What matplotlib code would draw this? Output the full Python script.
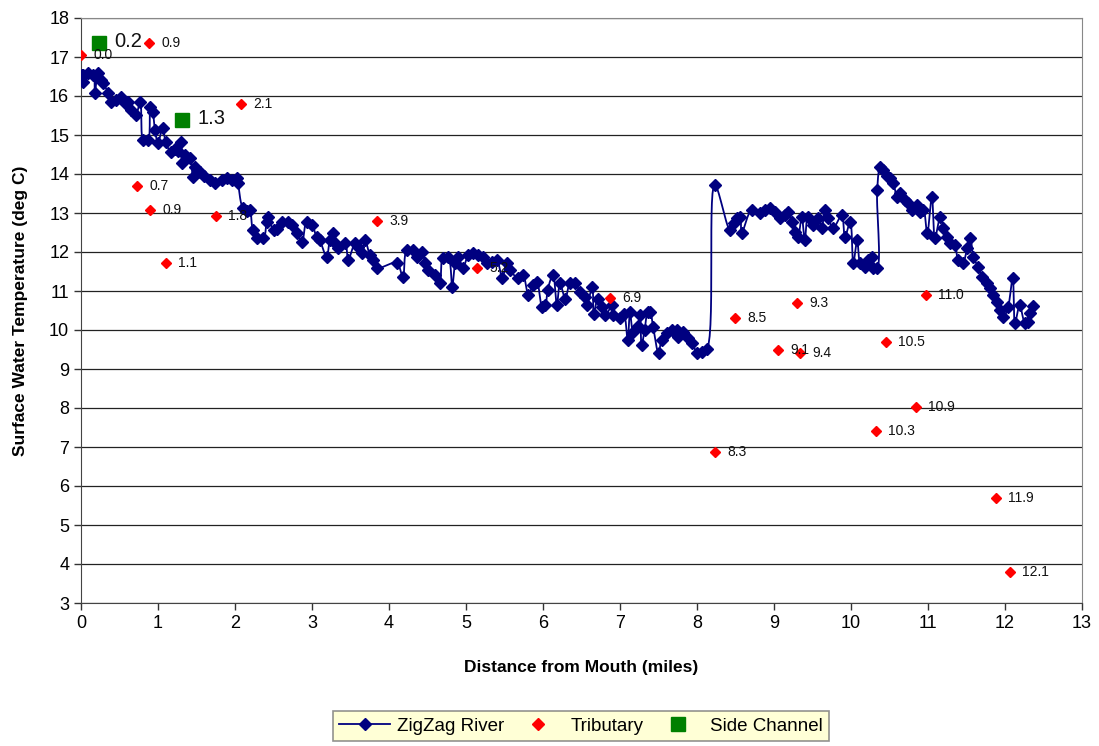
import numpy as np
import matplotlib
matplotlib.use("Agg")
import matplotlib.pyplot as plt
from matplotlib.lines import Line2D

plt.rcParams['font.family'] = ['Liberation Sans', 'DejaVu Sans']

# ---------------- data ----------------
river_x = [0.00, 0.01, 0.03, 0.03, 0.09, 0.16, 0.18, 0.22, 0.26, 0.29, 0.35, 0.39, 0.45, 0.52, 0.57,
           0.61, 0.65, 0.71, 0.77, 0.81, 0.87, 0.90, 0.93, 0.96, 1.00, 1.06, 1.10, 1.17, 1.22, 1.26,
           1.30, 1.31, 1.35, 1.42, 1.45, 1.48, 1.55, 1.60, 1.67, 1.74, 1.83, 1.90, 1.96, 2.03, 2.04,
           2.10, 2.15, 2.19, 2.23, 2.28, 2.37, 2.41, 2.43, 2.50, 2.54, 2.61, 2.69, 2.74, 2.80, 2.87,
           2.93, 3.00, 3.06, 3.10, 3.19, 3.23, 3.27, 3.30, 3.34, 3.43, 3.47, 3.56, 3.60, 3.65, 3.69,
           3.75, 3.79, 3.84, 4.10, 4.18, 4.23, 4.31, 4.36, 4.43, 4.47, 4.51, 4.60, 4.66, 4.70, 4.77,
           4.82, 4.86, 4.90, 4.96, 5.03, 5.09, 5.16, 5.22, 5.27, 5.34, 5.40, 5.47, 5.53, 5.57, 5.68,
           5.74, 5.81, 5.87, 5.92, 5.99, 6.03, 6.06, 6.13, 6.18, 6.22, 6.29, 6.35, 6.42, 6.48, 6.55,
           6.57, 6.64, 6.66, 6.71, 6.77, 6.81, 6.90, 6.91, 7.00, 7.05, 7.10, 7.13, 7.17, 7.23, 7.26,
           7.28, 7.32, 7.36, 7.39, 7.43, 7.50, 7.54, 7.61, 7.68, 7.74, 7.75, 7.82, 7.88, 7.94, 8.00,
           8.06, 8.13, 8.23, 8.43, 8.48, 8.52, 8.56, 8.58, 8.71, 8.82, 8.88, 8.95, 9.01, 9.08,
           9.14, 9.18, 9.23, 9.27, 9.31, 9.36, 9.40, 9.44, 9.51, 9.57, 9.62, 9.66, 9.70, 9.77, 9.88,
           9.92, 9.99, 10.03, 10.08, 10.12, 10.18, 10.22, 10.27, 10.29, 10.34, 10.34, 10.38, 10.42, 10.47, 10.51,
           10.55, 10.60, 10.64, 10.70, 10.74, 10.79, 10.86, 10.90, 10.94, 10.99, 11.05, 11.09, 11.16, 11.20, 11.25,
           11.29, 11.35, 11.39, 11.45, 11.51, 11.55, 11.59, 11.65, 11.70, 11.77, 11.81, 11.84, 11.90, 11.94, 11.98,
           12.04, 12.10, 12.13, 12.19, 12.26, 12.30, 12.33, 12.36]
river_y = [16.40, 16.55, 16.54, 16.36, 16.59, 16.54, 16.08, 16.59, 16.40, 16.33, 16.08, 15.85, 15.90, 15.97, 15.82,
           15.85, 15.64, 15.51, 15.85, 14.87, 14.87, 15.72, 15.60, 15.13, 14.80, 15.18, 14.82, 14.56, 14.65, 14.60,
           14.82, 14.28, 14.50, 14.40, 13.92, 14.18, 14.05, 13.95, 13.85, 13.77, 13.85, 13.90, 13.85, 13.90, 13.77,
           13.13, 13.05, 13.08, 12.56, 12.36, 12.36, 12.77, 12.90, 12.56, 12.60, 12.77, 12.77, 12.70, 12.50, 12.26,
           12.77, 12.70, 12.38, 12.30, 11.87, 12.30, 12.50, 12.23, 12.10, 12.23, 11.80, 12.23, 12.13, 11.97, 12.30,
           11.92, 11.80, 11.59, 11.72, 11.36, 12.05, 12.05, 11.87, 12.00, 11.72, 11.54, 11.41, 11.20, 11.85, 11.87,
           11.10, 11.72, 11.87, 11.59, 11.92, 11.97, 11.92, 11.87, 11.72, 11.74, 11.80, 11.33, 11.72, 11.54, 11.33,
           11.41, 10.90, 11.15, 11.23, 10.59, 10.64, 11.03, 11.41, 10.64, 11.20, 10.80, 11.20, 11.20, 10.97, 10.85,
           10.64, 11.10, 10.40, 10.80, 10.59, 10.38, 10.64, 10.38, 10.30, 10.40, 9.74, 10.46, 9.95, 10.10, 10.38,
           9.62, 10.00, 10.46, 10.46, 10.08, 9.41, 9.74, 9.92, 10.00, 10.00, 9.82, 9.95, 9.79, 9.67, 9.41,
           9.44, 9.51, 13.72, 12.56, 12.75, 12.87, 12.90, 12.49, 13.08, 13.00, 13.08, 13.13, 13.03, 12.87,
           12.95, 13.03, 12.77, 12.51, 12.38, 12.90, 12.31, 12.90, 12.69, 12.87, 12.62, 13.08, 12.87, 12.62, 12.95,
           12.38, 12.77, 11.72, 12.31, 11.72, 11.62, 11.80, 11.87, 11.59, 11.59, 13.59, 14.18, 14.10, 13.95, 13.90,
           13.77, 13.41, 13.51, 13.33, 13.26, 13.08, 13.21, 13.03, 13.08, 12.49, 13.41, 12.36, 12.90, 12.62, 12.38,
           12.23, 12.18, 11.80, 11.72, 12.10, 12.36, 11.87, 11.62, 11.36, 11.20, 11.08, 10.90, 10.72, 10.51, 10.33,
           10.59, 11.33, 10.18, 10.64, 10.18, 10.21, 10.44, 10.62]

trib_x = [0.00, 0.88, 2.08, 0.73, 0.90, 1.10, 1.75, 3.84, 5.14, 6.87, 8.23, 8.49, 9.05, 9.30, 9.34,
          10.32, 10.45, 10.84, 10.97, 11.88, 12.06]
trib_y = [17.05, 17.35, 15.80, 13.70, 13.08, 11.72, 12.92, 12.80, 11.60, 10.82, 6.88, 10.30, 9.49, 10.69, 9.41,
          7.40, 9.70, 8.02, 10.90, 5.70, 3.80]
trib_labels = ["0.0", "0.9", "2.1", "0.7", "0.9", "1.1", "1.8", "3.9", "5.2", "6.9", "8.3", "8.5", "9.1", "9.3", "9.4",
               "10.3", "10.5", "10.9", "11.0", "11.9", "12.1"]

side_x = [0.23, 1.31]
side_y = [17.35, 15.38]
side_labels = ["0.2", "1.3"]

x_ticks = list(range(0, 14))
y_ticks = list(range(3, 19))

# ---------------- figure ----------------
W, H = 1099, 746
fig = plt.figure(figsize=(W / 100, H / 100), dpi=100)
ax = fig.add_axes([81 / W, 1 - 603 / H, (1082 - 81) / W, (603 - 18) / H])
ax.set_xlim(0, 13)
ax.set_ylim(3, 18)


def centripetal_cr(xs, ys, sx, sy, n=14, alpha=0.5):
    P = np.column_stack([np.asarray(xs) * sx, np.asarray(ys) * sy])
    P = np.vstack([2 * P[0] - P[1], P, 2 * P[-1] - P[-2]])
    out = []
    for i in range(1, len(P) - 2):
        p0, p1, p2, p3 = P[i - 1], P[i], P[i + 1], P[i + 2]

        def tj(ti, a, b):
            d = np.hypot(*(b - a))
            return ti + max(d, 1e-6) ** alpha
        t0 = 0.0
        t1 = tj(t0, p0, p1)
        t2 = tj(t1, p1, p2)
        t3 = tj(t2, p2, p3)
        t = np.linspace(t1, t2, n, endpoint=False)[:, None]
        A1 = (t1 - t) / (t1 - t0) * p0 + (t - t0) / (t1 - t0) * p1
        A2 = (t2 - t) / (t2 - t1) * p1 + (t - t1) / (t2 - t1) * p2
        A3 = (t3 - t) / (t3 - t2) * p2 + (t - t2) / (t3 - t2) * p3
        B1 = (t2 - t) / (t2 - t0) * A1 + (t - t0) / (t2 - t0) * A2
        B2 = (t3 - t) / (t3 - t1) * A2 + (t - t1) / (t3 - t1) * A3
        C = (t2 - t) / (t2 - t1) * B1 + (t - t1) / (t2 - t1) * B2
        out.append(C)
    out.append(P[-2][None, :])
    out = np.vstack(out)
    return out[:, 0] / sx, out[:, 1] / sy


sx = (1082 - 81) / 13.0
sy = (603 - 18) / 15.0
lx, ly = centripetal_cr(river_x, river_y, sx, sy)

ax.plot(lx, ly, color='#000080', lw=1.3, zorder=3)
ax.plot(river_x, river_y, linestyle='none', marker='D', markersize=6.4,
        color='#000080', zorder=4)
ax.plot(trib_x, trib_y, linestyle='none', marker='D', markersize=5.6,
        color='#FF0000', zorder=5)
ax.plot(side_x, side_y, linestyle='none', marker='s', markersize=10,
        color='#008000', zorder=5)

for x, y, s in zip(trib_x, trib_y, trib_labels):
    ax.annotate(s, (x, y), xytext=(9, 0), textcoords='offset points',
                ha='left', va='center', fontsize=10, color='#111111', zorder=6)
for x, y, s in zip(side_x, side_y, side_labels):
    ax.annotate(s, (x, y), xytext=(11, 1), textcoords='offset points',
                ha='left', va='center', fontsize=14.5, color='#111111', zorder=6)

ax.set_xticks(x_ticks)
ax.set_yticks(y_ticks)
ax.tick_params(axis='both', labelsize=13, direction='out', length=5, width=1, color='#333333')
ax.yaxis.grid(True, color='#222222', lw=0.9)
ax.set_axisbelow(True)
for side in ['top', 'right']:
    ax.spines[side].set_color('#888888')
for side in ['left', 'bottom']:
    ax.spines[side].set_color('#444444')

ax.set_xlabel('Distance from Mouth (miles)', fontsize=12.5, fontweight='bold', labelpad=20)
ax.set_ylabel('Surface Water Temperature (deg C)', fontsize=12.5, fontweight='bold', labelpad=15)

handles = [
    Line2D([0], [0], color='#000080', lw=1.3, marker='D', markersize=6),
    Line2D([0], [0], color='#FF0000', lw=0, marker='D', markersize=6),
    Line2D([0], [0], color='#008000', lw=0, marker='s', markersize=10),
]
leg = fig.legend(handles, ['ZigZag River', 'Tributary', 'Side Channel'], ncol=3,
                 loc='center', bbox_to_anchor=(581 / W, 1 - 726 / H), fontsize=13.5,
                 frameon=True, fancybox=False, facecolor='#FFFFCC', edgecolor='#777777',
                 handlelength=2.7, columnspacing=0.5, handletextpad=0.35, borderpad=0.35,
                 borderaxespad=0)
leg.get_frame().set_linewidth(1.2)

fig.savefig('out.png', dpi=100, facecolor='white')
